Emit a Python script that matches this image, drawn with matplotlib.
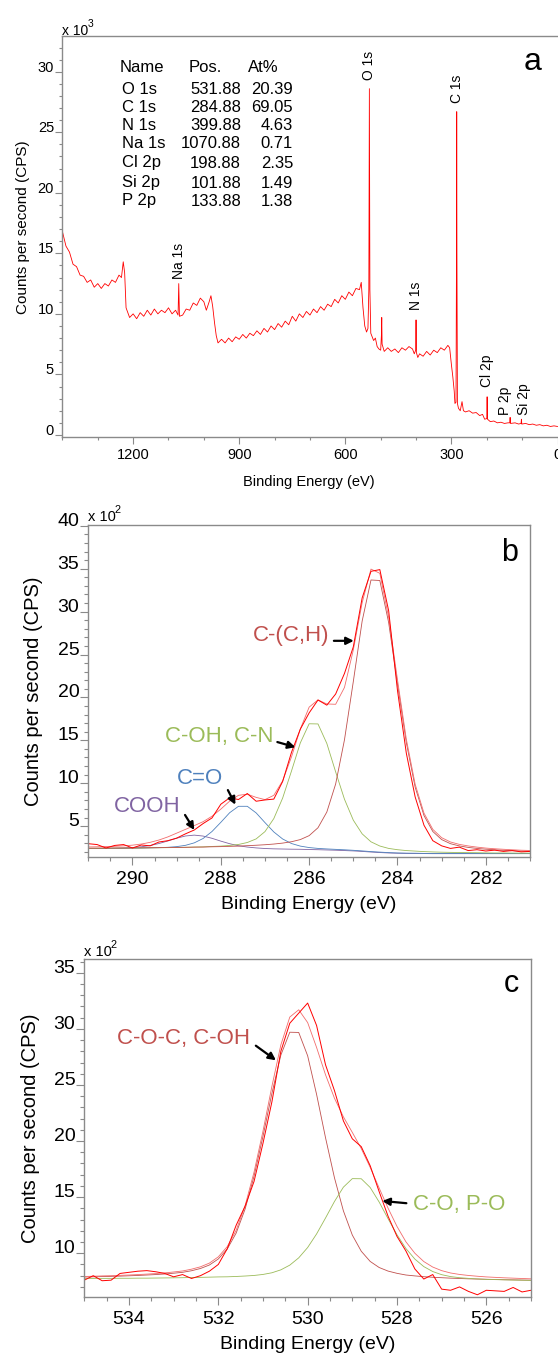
"""XPS survey (a) plus C 1s (b) and O 1s (c) high resolution fits."""
import numpy as np
import matplotlib

matplotlib.use("Agg")
import matplotlib.pyplot as plt
from matplotlib.ticker import MultipleLocator

plt.rcParams["font.family"] = ["Liberation Sans", "DejaVu Sans"]

W, H, DPI = 558, 1356, 100

# ---------------- (a) survey, counts x 10^3 ----------------
SURVEY_BE = [
    1400, 1390, 1380, 1370, 1360, 1350, 1340, 1330, 1320, 1310, 1300, 1290, 1280, 1270,
    1260, 1250, 1240, 1233, 1228, 1224, 1220, 1210, 1200, 1190, 1180, 1170, 1160, 1150,
    1140, 1130, 1120, 1110, 1100, 1090, 1080, 1073, 1071, 1069, 1060, 1050, 1040, 1030,
    1020, 1010, 1000, 993, 985, 980, 975, 970, 965, 960, 950, 940, 930, 920, 910, 900,
    890, 880, 870, 860, 850, 840, 830, 820, 810, 800, 790, 780, 770, 760, 750, 740, 730,
    720, 710, 700, 690, 680, 670, 660, 650, 640, 630, 620, 610, 600, 590, 580, 570, 560,
    555, 550, 545, 540, 536, 533.5, 532, 530.5, 528, 520, 515, 510, 505, 500, 498, 497,
    496, 490, 480, 470, 460, 450, 440, 430, 420, 410, 405, 401, 400, 399, 395, 390, 380,
    370, 360, 350, 340, 330, 320, 310, 305, 300, 296, 292, 290, 287, 285.6, 285, 284.4,
    283, 280, 275, 270, 266, 260, 250, 240, 230, 220, 212, 206, 200, 199, 198, 190, 180,
    170, 160, 150, 140, 135, 134, 133, 120, 110, 103, 102, 101, 90, 80, 70, 60, 50, 40,
    30, 20, 10, 0,
]
SURVEY_KCPS = [
    16.8, 15.6, 15.1, 14.1, 13.9, 13.2, 13.1, 12.6, 12.8, 12.2, 12.5, 12.1, 12.5, 12.3,
    12.8, 12.6, 13.2, 13.0, 14.3, 13.4, 10.5, 9.7, 10.0, 9.6, 10.1, 9.8, 10.3, 9.9,
    10.4, 10.0, 10.3, 10.1, 10.5, 10.0, 10.3, 9.9, 12.5, 9.8, 9.9, 10.4, 10.3, 10.9,
    10.7, 11.3, 11.0, 10.3, 11.0, 11.5, 10.6, 9.3, 8.2, 7.6, 7.9, 7.6, 8.0, 7.7, 8.1, 7.9,
    8.3, 8.0, 8.4, 8.2, 8.6, 8.3, 8.8, 8.5, 9.0, 8.7, 9.2, 8.9, 9.4, 9.1, 9.8, 9.4, 10.0,
    9.7, 10.2, 9.9, 10.4, 10.1, 10.6, 10.3, 10.8, 10.6, 11.2, 10.9, 11.5, 11.2, 11.8, 11.5, 12.1, 12.0,
    12.6, 10.5, 9.0, 8.5, 8.8, 12.0, 28.6, 12.0, 8.4, 7.8, 8.0, 7.3, 7.1, 7.0, 8.2, 9.7,
    7.5, 6.9, 7.2, 6.9, 7.1, 6.8, 7.2, 7.0, 7.3, 7.1, 6.7, 7.0, 9.5, 6.8, 6.4, 6.7, 6.5,
    6.9, 6.6, 7.0, 6.8, 7.2, 7.0, 7.4, 7.2, 5.8, 4.8, 3.6, 2.6, 2.7, 15.0, 26.7, 15.0,
    2.6, 2.2, 2.0, 2.75, 2.0, 1.9, 2.0, 1.8, 1.85, 1.6, 1.7, 1.3, 1.35, 3.15, 1.3, 1.1, 1.15,
    1.0, 1.05, 0.95, 1.0, 1.0, 1.45, 0.95, 1.0, 0.9, 0.95, 1.3, 0.9, 0.95, 0.85, 0.9, 0.8, 0.85, 0.75,
    0.8, 0.7, 0.75, 0.7,
]
SURVEY_LABELS = ["O 1s", "C 1s", "N 1s", "Na 1s", "Cl 2p", "P 2p", "Si 2p"]

TABLE_NAMES = ["O 1s", "C 1s", "N 1s", "Na 1s", "Cl 2p", "Si 2p", "P 2p"]
TABLE_POS = [531.88, 284.88, 399.88, 1070.88, 198.88, 101.88, 133.88]
TABLE_AT = [20.39, 69.05, 4.63, 0.71, 2.35, 1.49, 1.38]

# ---------------- (b) C 1s, counts x 10^2, 291 -> 281 eV, 0.2 eV step ----------------
B_BASE = [
    2.35, 2.35, 2.35, 2.35, 2.35, 2.35, 2.35, 2.35, 2.35, 2.35,
    2.35, 2.35, 2.35, 2.34, 2.34, 2.33, 2.33, 2.32, 2.32, 2.31,
    2.30, 2.29, 2.28, 2.27, 2.26, 2.24, 2.22, 2.20, 2.17, 2.14,
    2.10, 2.04, 1.97, 1.91, 1.86, 1.83, 1.81, 1.80, 1.79, 1.78,
    1.78, 1.78, 1.78, 1.78, 1.78, 1.78, 1.78, 1.78, 1.78, 1.78,
    1.78,
]
B_CC = [
    0.08, 0.08, 0.09, 0.10, 0.10, 0.11, 0.12, 0.13, 0.14, 0.15,
    0.17, 0.18, 0.20, 0.22, 0.25, 0.28, 0.31, 0.35, 0.40, 0.46,
    0.53, 0.62, 0.74, 0.91, 1.17, 1.65, 2.59, 4.44, 7.74, 12.93,
    19.76, 26.86, 31.72, 31.72, 26.86, 19.76, 12.93, 7.74, 4.44, 2.59,
    1.65, 1.17, 0.91, 0.74, 0.62, 0.53, 0.46, 0.40, 0.35, 0.31,
    0.28,
]
B_COH = [
    0.06, 0.07, 0.07, 0.08, 0.09, 0.09, 0.10, 0.12, 0.13, 0.14,
    0.16, 0.18, 0.21, 0.24, 0.29, 0.34, 0.42, 0.54, 0.77, 1.20,
    2.06, 3.59, 5.99, 9.15, 12.44, 14.69, 14.69, 12.44, 9.15, 5.99,
    3.59, 2.06, 1.20, 0.77, 0.54, 0.42, 0.34, 0.29, 0.24, 0.21,
    0.18, 0.16, 0.14, 0.13, 0.12, 0.10, 0.09, 0.09, 0.08, 0.07,
    0.07,
]
B_CO = [
    0.04, 0.05, 0.06, 0.06, 0.07, 0.08, 0.10, 0.12, 0.14, 0.18,
    0.26, 0.41, 0.70, 1.22, 2.03, 3.11, 4.23, 4.99, 4.99, 4.23,
    3.11, 2.03, 1.22, 0.70, 0.41, 0.26, 0.18, 0.14, 0.12, 0.10,
    0.08, 0.07, 0.06, 0.06, 0.05, 0.04, 0.04, 0.04, 0.03, 0.03,
    0.03, 0.03, 0.03, 0.03, 0.02, 0.02, 0.02, 0.02, 0.02, 0.02,
    0.02,
]
B_COOH = [
    0.04, 0.04, 0.05, 0.06, 0.09, 0.15, 0.24, 0.39, 0.62, 0.92,
    1.24, 1.50, 1.60, 1.50, 1.24, 0.92, 0.62, 0.39, 0.24, 0.15,
    0.09, 0.06, 0.05, 0.04, 0.04, 0.03, 0.03, 0.02, 0.02, 0.01,
    0.01, 0.01, 0.01, 0.01, 0.01, 0.01, 0.01, 0.01, 0.01, 0.01,
    0.01, 0.01, 0.01, 0.01, 0.01, 0.01, 0.01, 0.01, 0.01, 0.01,
    0.01,
]
B_RAW = [
    2.95, 2.85, 2.45, 2.75, 2.85, 2.45, 2.80, 2.70, 3.15, 3.30,
    3.60, 4.10, 4.55, 5.30, 5.95, 7.55, 8.30, 8.10, 8.80, 7.90,
    8.05, 8.15, 10.20, 13.60, 16.30, 18.20, 19.70, 19.10, 20.40, 22.80,
    25.90, 31.60, 34.70, 34.90, 30.10, 20.80, 13.50, 8.40, 5.10, 3.30,
    2.70, 2.40, 2.55, 2.15, 2.25, 2.10, 2.20, 2.05, 2.15, 2.00,
    2.05,
]

# ---------------- (c) O 1s, counts x 10^2, 535 -> 525 eV, 0.2 eV step ----------------
C_BASE = [
    7.70, 7.70, 7.70, 7.70, 7.70, 7.70, 7.70, 7.70, 7.70, 7.70,
    7.70, 7.70, 7.70, 7.70, 7.70, 7.70, 7.69, 7.68, 7.67, 7.66,
    7.65, 7.63, 7.61, 7.59, 7.57, 7.55, 7.54, 7.53, 7.52, 7.51,
    7.50, 7.49, 7.48, 7.48, 7.47, 7.47, 7.46, 7.46, 7.46, 7.46,
    7.46, 7.46, 7.46, 7.46, 7.46, 7.46, 7.46, 7.46, 7.46, 7.46,
    7.46,
]
C_COC = [
    0.18, 0.20, 0.22, 0.24, 0.26, 0.29, 0.32, 0.36, 0.40, 0.45,
    0.52, 0.60, 0.74, 0.94, 1.25, 1.79, 2.69, 4.12, 6.27, 9.21,
    12.77, 16.62, 20.05, 22.11, 22.11, 20.05, 16.62, 12.77, 9.21, 6.27,
    4.12, 2.69, 1.79, 1.25, 0.94, 0.74, 0.60, 0.52, 0.45, 0.40,
    0.36, 0.32, 0.29, 0.26, 0.24, 0.22, 0.20, 0.18, 0.17, 0.15,
    0.14,
]
C_PO = [
    0.05, 0.05, 0.06, 0.06, 0.07, 0.07, 0.08, 0.08, 0.09, 0.10,
    0.11, 0.12, 0.14, 0.15, 0.17, 0.19, 0.21, 0.25, 0.30, 0.36,
    0.46, 0.63, 0.91, 1.35, 2.02, 2.96, 4.18, 5.61, 7.09, 8.38,
    9.15, 9.15, 8.38, 7.09, 5.61, 4.18, 2.96, 2.02, 1.35, 0.91,
    0.63, 0.46, 0.36, 0.30, 0.25, 0.21, 0.19, 0.17, 0.15, 0.14,
    0.12,
]
C_RAW = [
    7.60, 8.00, 7.55, 7.60, 8.20, 8.30, 8.40, 8.45, 8.35, 8.20,
    7.90, 8.10, 7.75, 8.00, 8.40, 9.00, 10.40, 12.50, 14.20, 16.40,
    19.80, 23.50, 28.00, 30.50, 31.40, 32.30, 30.30, 26.80, 24.50, 21.80,
    20.20, 19.50, 17.80, 15.50, 13.30, 11.50, 10.20, 8.60, 7.70, 8.10,
    6.80, 6.70, 7.00, 6.60, 6.30, 6.70, 6.65, 6.60, 6.95, 6.55,
    6.70,
]

RED, GREEN, BLUE, PURPLE = "#c0504d", "#9bbb59", "#4f81bd", "#8064a2"
GREY = "#8a8a8a"

fig = plt.figure(figsize=(W / DPI, H / DPI), dpi=DPI)


def box(left, top, right, bottom):
    return [left / W, 1 - bottom / H, (right - left) / W, (bottom - top) / H]


def put(x, y, s, **kw):
    fig.text(x / W, 1 - y / H, s, **kw)


def style(ax, size, major, minor, xmaj, xmin, ymaj, ymin, xpad):
    for sp in ax.spines.values():
        sp.set_color(GREY)
        sp.set_linewidth(1.0)
    ax.xaxis.set_major_locator(MultipleLocator(xmaj))
    ax.xaxis.set_minor_locator(MultipleLocator(xmin))
    ax.yaxis.set_major_locator(MultipleLocator(ymaj))
    ax.yaxis.set_minor_locator(MultipleLocator(ymin))
    ax.tick_params(which="both", direction="out", color=GREY, width=0.8,
                   labelsize=size, labelcolor="black")
    ax.tick_params(which="major", length=major)
    ax.tick_params(which="minor", length=minor)
    ax.tick_params(axis="y", which="major", pad=0.5)
    ax.tick_params(axis="x", which="major", pad=xpad)
    for t in ax.yaxis.get_major_ticks():
        t.label1.set_verticalalignment("baseline")


def multiplier(x, y, power, size):
    put(x, y, "x 10", fontsize=size, ha="left", va="center")
    put(x + 2.55 * size, y - 7, power, fontsize=size * 0.75, ha="left", va="center")


# ---------- panel a ----------
ax = fig.add_axes(box(61.7, 36, 557.5, 437))
ax.plot(SURVEY_BE, SURVEY_KCPS, color="#ff0000", lw=0.6)
ax.set_xlim(1402, 0)
ax.set_ylim(-0.17, 32.95)
ax.spines["right"].set_visible(False)
style(ax, 10.5, 5, 2.5, 300, 100, 5, 1, 3)
label_be = [531.88, 284.88, 399.88, 1070.88, 198.88, 148.5, 94.7]
label_y = [29.3, 27.4, 10.3, 12.9, 3.96, 1.65, 1.65]
for name, x, y in zip(SURVEY_LABELS, label_be, label_y):
    ax.text(x, y, name, rotation=90, ha="center", va="bottom", fontsize=10)
ax.set_xlabel("Binding Energy (eV)", fontsize=10.5)
ax.set_ylabel("Counts per second (CPS)", fontsize=11)
ax.xaxis.set_label_coords(309 / W, 1 - 475 / H, transform=fig.transFigure)
ax.yaxis.set_label_coords(30 / W, 1 - 227 / H, transform=fig.transFigure)
multiplier(62, 30.7, "3", 10)
put(533, 62, "a", fontsize=23, ha="center", va="center")

rows_y = [90, 108, 126, 144, 163, 183, 201]
put(120, 67, "Name", fontsize=12, va="center")
put(189, 67, "Pos.", fontsize=12, va="center")
put(248, 67, "At%", fontsize=12, va="center")
for name, pos, at, y in zip(TABLE_NAMES, TABLE_POS, TABLE_AT, rows_y):
    put(122, y, name, fontsize=12, va="center")
    put(241, y, f"{pos:.2f}", fontsize=12, va="center", ha="right")
    put(293, y, f"{at:.2f}", fontsize=12, va="center", ha="right")

# ---------- panel b ----------
ax = fig.add_axes(box(88.3, 525, 530, 857))
be_b = np.linspace(291, 281, 51)
base_b = np.array(B_BASE)
comps_b = [(B_COOH, PURPLE), (B_CO, BLUE), (B_COH, GREEN), (B_CC, RED)]
for comp, col in comps_b:
    ax.plot(be_b, base_b + np.array(comp), color=col, lw=0.6)
env_b = base_b + np.array(B_CC) + np.array(B_COH) + np.array(B_CO) + np.array(B_COOH)
ax.plot(be_b, env_b, color="#f26b6b", lw=0.6)
ax.plot(be_b, B_RAW, color="#ff0000", lw=0.7)
ax.set_xlim(291, 281)
ax.set_ylim(1.4, 40.1)
style(ax, 14, 6, 3, 2, 0.5, 5, 1, 4)
ax.set_xlabel("Binding Energy (eV)", fontsize=14)
ax.set_ylabel("Counts per second (CPS)", fontsize=14.5)
ax.xaxis.set_label_coords(309 / W, 1 - 896 / H, transform=fig.transFigure)
ax.yaxis.set_label_coords(43 / W, 1 - 691 / H, transform=fig.transFigure)
arrow = dict(arrowstyle="-|>", color="black", lw=1.6, mutation_scale=11, shrinkA=0, shrinkB=0)
ax.text(285.55, 27.2, "C-(C,H)", color=RED, fontsize=16, ha="right", va="center")
ax.annotate("", xy=(284.99, 26.6), xytext=(285.44, 26.6), arrowprops=arrow)
ax.text(286.8, 15.45, "C-OH, C-N", color=GREEN, fontsize=16, ha="right", va="center")
ax.annotate("", xy=(286.31, 14.2), xytext=(286.72, 14.8), arrowprops=arrow)
ax.text(288.47, 10.5, "C=O", color=BLUE, fontsize=16, ha="center", va="center")
ax.annotate("", xy=(287.67, 7.5), xytext=(287.84, 9.2), arrowprops=arrow)
ax.text(289.67, 7.27, "COOH", color=PURPLE, fontsize=16, ha="center", va="center")
ax.annotate("", xy=(288.6, 4.55), xytext=(288.81, 6.3), arrowprops=arrow)
multiplier(88, 516.7, "2", 10.5)
put(510, 553, "b", fontsize=22, ha="center", va="center")

# ---------- panel c ----------
ax = fig.add_axes(box(84.3, 959.3, 531, 1297))
be_c = np.linspace(535, 525, 51)
base_c = np.array(C_BASE)
ax.plot(be_c, base_c + np.array(C_COC), color=RED, lw=0.6)
ax.plot(be_c, base_c + np.array(C_PO), color=GREEN, lw=0.6)
env_c = base_c + np.array(C_COC) + np.array(C_PO)
ax.plot(be_c, env_c, color="#f26b6b", lw=0.6)
ax.plot(be_c, C_RAW, color="#ff0000", lw=0.7)
ax.set_xlim(535, 525)
ax.set_ylim(6.1, 36.2)
style(ax, 14, 6, 3, 2, 0.5, 5, 1, 4)
ax.set_xlabel("Binding Energy (eV)", fontsize=14)
ax.set_ylabel("Counts per second (CPS)", fontsize=14.5)
ax.xaxis.set_label_coords(308 / W, 1 - 1336 / H, transform=fig.transFigure)
ax.yaxis.set_label_coords(40 / W, 1 - 1128 / H, transform=fig.transFigure)
ax.text(532.78, 29.1, "C-O-C, C-OH", color=RED, fontsize=16, ha="center", va="center")
ax.annotate("", xy=(530.71, 27.2), xytext=(531.16, 28.5), arrowprops=arrow)
ax.text(527.65, 14.37, "C-O, P-O", color=GREEN, fontsize=16, ha="left", va="center")
ax.annotate("", xy=(528.33, 14.66), xytext=(527.79, 14.46), arrowprops=arrow)
multiplier(84, 951.7, "2", 10.5)
put(511, 983.5, "c", fontsize=22, ha="center", va="center")

fig.savefig("out.png", dpi=DPI)
